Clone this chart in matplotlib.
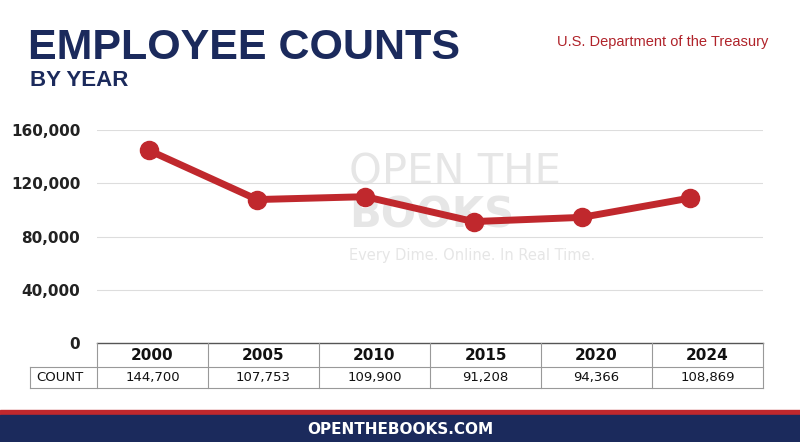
import matplotlib.pyplot as plt
from matplotlib.patches import Rectangle

years = ["2000", "2005", "2010", "2015", "2020", "2024"]
counts = [144700, 107753, 109900, 91208, 94366, 108869]
yticks = [0, 40000, 80000, 120000, 160000]

W, H = 800, 442
navy = "#1b2a5c"
red = "#c0282d"

fig = plt.figure(figsize=(8, 4.42), dpi=100)
fig.patch.set_facecolor("white")

# main chart area in pixel coords
x0, x1 = 97, 763
y0, ytop = 343, 130
ax = fig.add_axes([x0 / W, 1 - y0 / H, (x1 - x0) / W, (y0 - ytop) / H])
ax.set_facecolor("none")
ax.set_xlim(-0.48, 5.675)
ax.set_ylim(0, 160000)
ax.set_yticks(yticks)
ax.set_yticklabels([f"{v:,}" for v in yticks], fontsize=11, fontweight="bold", color="#222222")
ax.set_xticks([])
ax.tick_params(axis="y", length=0, pad=12)
for s in ax.spines.values():
    s.set_visible(False)
ax.grid(axis="y", color="#dddddd", lw=0.8)
ax.set_axisbelow(True)

# faint watermark
ax.text(1.85, 128000, "OPEN THE", fontsize=30, color="#e6e6e6", ha="left", va="center", zorder=0)
ax.text(1.85, 96000, "BOOKS", fontsize=30, fontweight="bold", color="#e6e6e6", ha="left", va="center", zorder=0)
ax.text(1.85, 66000, "Every Dime. Online. In Real Time.", fontsize=10.5, color="#e6e6e6",
        ha="left", va="center", zorder=0)

xs = list(range(len(years)))
ax.plot(xs, counts, color=red, lw=5, solid_capstyle="round", zorder=3)
ax.scatter(xs, counts, s=170, color=red, zorder=4)

# table under the chart
tab = fig.add_axes([0, 0, 1, 1])
tab.set_xlim(0, W)
tab.set_ylim(H, 0)
tab.axis("off")
colw = (x1 - x0) / len(years)
r0, r1, r2 = 343, 367, 388
tab.plot([x0, x1], [r0, r0], color="#555555", lw=1)
tab.plot([30, x1], [r1, r1], color="#999999", lw=0.8)
tab.plot([30, x1], [r2, r2], color="#999999", lw=0.8)
tab.plot([30, 30], [r1, r2], color="#999999", lw=0.8)
for i in range(len(years) + 1):
    xx = x0 + i * colw
    tab.plot([xx, xx], [r0, r2], color="#999999", lw=0.8)
for i, (yr, c) in enumerate(zip(years, counts)):
    cx = x0 + (i + 0.5) * colw
    tab.text(cx, (r0 + r1) / 2, yr, ha="center", va="center", fontsize=11, fontweight="bold", color="#111111")
    tab.text(cx, (r1 + r2) / 2, f"{c:,}", ha="center", va="center", fontsize=9.5, color="#111111")
tab.text(36, (r1 + r2) / 2, "COUNT", ha="left", va="center", fontsize=9.5, color="#111111")

# titles
tab.text(28, 48, "EMPLOYEE COUNTS", fontsize=31, fontweight="bold", color=navy, ha="left", va="center",
         family="Liberation Sans")
tab.text(30, 81, "BY YEAR", fontsize=16, fontweight="bold", color=navy, ha="left", va="center",
         family="Liberation Sans")
tab.text(768, 42, "U.S. Department of the Treasury", fontsize=10.5, color="#b0232a",
         ha="right", va="center", family="Liberation Sans")

# footer
tab.add_patch(Rectangle((0, 410), W, 5, color=red))
tab.add_patch(Rectangle((0, 415), W, 27, color=navy))
tab.text(W / 2, 429, "OPENTHEBOOKS.COM", fontsize=11, fontweight="bold", color="white", ha="center", va="center")

fig.savefig("out.png", dpi=100)
